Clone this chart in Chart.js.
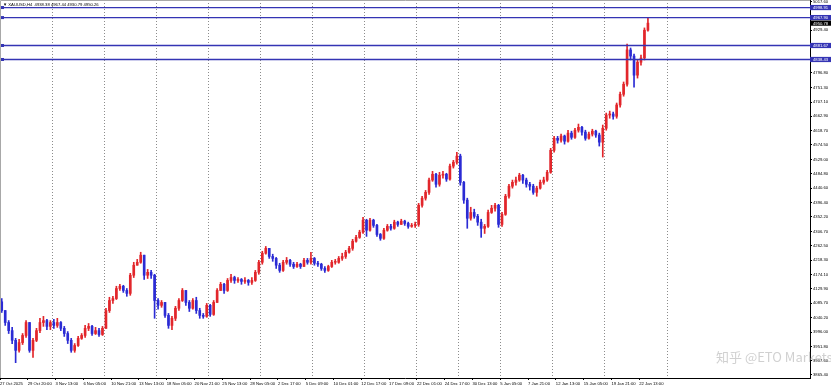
<!DOCTYPE html>
<html><head><meta charset="utf-8">
<script src="https://cdn.jsdelivr.net/npm/chart.js@4.4.1/dist/chart.umd.min.js"></script>
<style>html,body{margin:0;padding:0;background:#fff;overflow:hidden}canvas{display:block}</style>
</head><body>
<canvas id="c" width="831" height="387"></canvas>
<script>
// ---- Data (XAUUSD H4, each candle = 2 H4 bars) ----
const headerText = "\u25BC XAUUSD,H4  4938.38 4967.44 4930.79 4950.26";
const xLabels = ["27 Oct 2025","29 Oct 20:00","3 Nov 13:00","6 Nov 05:00","10 Nov 21:00","13 Nov 13:00","18 Nov 05:00","20 Nov 21:00","25 Nov 13:00","28 Nov 05:00","2 Dec 17:00","5 Dec 09:00","10 Dec 01:00","12 Dec 17:00","17 Dec 09:00","22 Dec 01:00","24 Dec 17:00","30 Dec 13:00","5 Jan 05:00","7 Jan 21:00","12 Jan 13:00","15 Jan 05:00","19 Jan 21:00","22 Jan 13:00"];
const xTickBars = [0,16,32,48,64,80,96,112,128,144,160,176,192,208,224,240,256,272,288,304,320,336,352,368];
const weekStartBars = [30,60,90,120,150,180,210,240,264,288,318,348,384];
const yTickValues = [5017.60,4929.40,4796.80,4751.30,4707.10,4662.90,4618.70,4574.50,4529.00,4484.80,4440.60,4396.40,4352.20,4306.70,4262.50,4218.30,4174.10,4129.90,4085.70,4040.20,3996.00,3951.80,3907.60,3865.40];
const levelValues = [4998.91, 4967.90, 4881.67, 4838.43];
const currentPrice = 4950.78;
const firstOpen = 4090;
const closes = [
4063,4026,4001,3971,3940,3964,3986,4026,3940,3971,
4001,4026,4032,4014,4026,4017,4026,4008,3992,3971,
3940,3955,3977,3986,4008,4014,3992,4001,3989,4008,
4063,4094,4100,4131,4138,4125,4116,4172,4203,4212,
4234,4172,4181,4172,4094,4079,4088,4048,4017,4039,
4070,4094,4125,4088,4070,4094,4063,4048,4045,4079,
4051,4088,4125,4144,4125,4156,4165,4156,4159,4153,
4156,4150,4156,4181,4212,4240,4255,4230,4224,4203,
4187,4212,4218,4206,4199,4206,4199,4218,4212,4224,
4209,4206,4193,4187,4199,4212,4212,4224,4230,4243,
4255,4277,4289,4305,4342,4311,4342,4326,4298,4286,
4311,4323,4317,4336,4329,4339,4332,4323,4326,4329,
4388,4410,4428,4466,4484,4453,4481,4484,4469,4509,
4521,4540,4459,4404,4348,4366,4354,4336,4317,4323,
4366,4379,4388,4329,4360,4416,4447,4459,4466,4481,
4466,4453,4447,4428,4441,4459,4466,4490,4558,4595,
4589,4602,4586,4611,4598,4620,4629,4614,4595,4608,
4617,4605,4583,4626,4667,4670,4663,4698,4731,4762,
4868,4849,4790,4830,4843,4929,4950.78];
const highs = [
4100,4060,4032,4011,3977,3974,3992,4032,4023,3977,
4008,4039,4045,4036,4032,4036,4039,4029,4014,3998,
3977,3961,3983,3992,4017,4023,4017,4011,4008,4014,
4070,4104,4107,4138,4144,4141,4131,4178,4212,4221,
4243,4230,4190,4187,4175,4100,4094,4088,4054,4045,
4076,4100,4131,4125,4094,4100,4104,4070,4054,4085,
4082,4094,4131,4150,4147,4162,4175,4169,4165,4162,
4165,4159,4165,4187,4218,4246,4261,4255,4237,4227,
4209,4218,4227,4221,4212,4212,4209,4224,4224,4243,
4227,4215,4209,4199,4203,4218,4221,4230,4240,4249,
4261,4283,4295,4311,4351,4345,4348,4345,4329,4301,
4317,4329,4329,4342,4339,4345,4342,4336,4332,4336,
4394,4416,4434,4472,4493,4487,4490,4493,4487,4515,
4527,4552,4546,4462,4410,4382,4376,4360,4345,4329,
4373,4388,4394,4391,4366,4422,4453,4466,4475,4487,
4484,4472,4459,4453,4447,4466,4475,4496,4564,4601,
4601,4608,4605,4620,4617,4626,4639,4632,4620,4614,
4623,4620,4611,4636,4673,4679,4676,4704,4738,4769,
4886,4874,4855,4837,4852,4936,4967.44];
const lows = [
4057,4017,3992,3961,3902,3934,3958,3980,3934,3918,
3967,3995,4014,4004,4004,4008,4011,4001,3983,3961,
3934,3934,3952,3974,3980,4001,3986,3989,3983,3986,
4011,4057,4085,4097,4125,4119,4107,4110,4165,4203,
4209,4159,4162,4162,4039,4067,4073,4042,4008,4004,
4032,4063,4091,4079,4060,4067,4054,4039,4039,4042,
4045,4048,4088,4125,4116,4122,4150,4147,4150,4144,
4147,4141,4144,4153,4175,4206,4237,4224,4215,4193,
4181,4184,4206,4199,4193,4196,4193,4199,4206,4206,
4203,4199,4187,4181,4184,4196,4206,4209,4218,4224,
4240,4249,4274,4286,4301,4292,4308,4320,4292,4280,
4283,4308,4311,4314,4323,4329,4326,4317,4320,4320,
4323,4382,4404,4422,4462,4444,4447,4472,4462,4466,
4503,4515,4450,4394,4317,4342,4348,4326,4289,4301,
4320,4363,4370,4320,4323,4357,4410,4441,4450,4462,
4456,4444,4435,4422,4416,4438,4453,4462,4487,4552,
4580,4583,4577,4583,4592,4595,4614,4605,4589,4592,
4602,4598,4571,4537,4620,4657,4654,4657,4691,4725,
4756,4837,4753,4781,4821,4837,4926];

// ---- Styling ----
const UP = '#e2262b', DOWN = '#2b2bd4', LEVEL = '#3434b4';
const FONT = '"Liberation Sans", Arial, sans-serif';
const FS = 4.2;
const X_MAX = 466.3, Y_MIN = 3854.6, Y_MAX = 5022.2;

const opens = closes.map((c, i) => i === 0 ? firstOpen : closes[i - 1]);
const colors = closes.map((c, i) => c >= opens[i] ? UP : DOWN);
const wickData = closes.map((c, i) => ({ x: 2 * i + 1, y: [Math.min(lows[i], opens[i], c), Math.max(highs[i], opens[i], c)] }));
const bodyData = closes.map((c, i) => ({ x: 2 * i + 1, y: [opens[i], c] }));

function fixBox(w, h) {
  return function (s) {
    if (w != null) s.width = w;
    if (h != null) s.height = h;
    s.paddingLeft = 0; s.paddingRight = 0; s.paddingTop = 0; s.paddingBottom = 0;
  };
}

const levelSets = levelValues.map(v => ({
  type: 'line', data: [{ x: 0, y: v }, { x: X_MAX, y: v }],
  borderColor: LEVEL, borderWidth: 1.3, pointRadius: 0, xAxisID: 'x', yAxisID: 'y', order: 0
}));

const decor = {
  id: 'decor',
  afterDraw(chart) {
    const { ctx, chartArea: a, scales } = chart;
    const ys = scales.y;
    ctx.save();
    ctx.strokeStyle = '#a8a8a8'; ctx.lineWidth = 1;
    ctx.beginPath(); ctx.moveTo(0.5, a.bottom); ctx.lineTo(0.5, 0.5); ctx.lineTo(a.right, 0.5); ctx.stroke();
    ctx.fillStyle = '#000'; ctx.font = FS + 'px ' + FONT; ctx.textBaseline = 'middle'; ctx.textAlign = 'left';
    ctx.fillText(headerText, 3, 4.5);
    levelValues.forEach(v => {
      const y = ys.getPixelForValue(v);
      ctx.fillStyle = LEVEL;
      ctx.fillRect(a.right, y - 2.6, 831 - a.right, 5.2);
      ctx.fillRect(1, y - 1.5, 3, 3);
      ctx.fillStyle = '#fff';
      ctx.fillText(v.toFixed(2), a.right + 3, y + 0.3);
    });
    const yc = ys.getPixelForValue(currentPrice);
    ctx.fillStyle = '#000';
    ctx.fillRect(a.right, yc - 2.6, 831 - a.right, 5.2);
    ctx.fillStyle = '#fff';
    ctx.fillText(currentPrice.toFixed(2), a.right + 3, yc + 0.3);
    ctx.font = '13px "Noto Sans CJK SC", ' + FONT;
    ctx.fillStyle = 'rgba(170,170,170,0.55)';
    ctx.textBaseline = 'alphabetic';
    ctx.fillText('\u77E5\u4E4E @ETO Markets', 716, 362);
    ctx.restore();
  }
};

Chart.defaults.font.family = FONT;
new Chart(document.getElementById('c'), {
  type: 'bar',
  data: {
    datasets: [
      { data: wickData, backgroundColor: colors, barThickness: 1, grouped: false, borderWidth: 0, order: 2, xAxisID: 'x', yAxisID: 'y' },
      { data: bodyData, backgroundColor: colors, barThickness: 2, grouped: false, borderWidth: 0, minBarLength: 1, order: 1, xAxisID: 'x', yAxisID: 'y' },
      ...levelSets
    ]
  },
  options: {
    responsive: false, animation: false, devicePixelRatio: 1,
    layout: { padding: 0 },
    plugins: { legend: { display: false }, tooltip: { enabled: false } },
    scales: {
      x: {
        type: 'linear', position: 'bottom', min: 0, max: X_MAX, offset: false,
        afterBuildTicks: s => { s.ticks = xTickBars.map(v => ({ value: v })); },
        ticks: { autoSkip: false, maxRotation: 0, minRotation: 0, align: 'start', padding: 1, color: '#000', font: { size: FS },
          callback: (v, i) => xLabels[i] },
        grid: { offset: false, drawOnChartArea: false, drawTicks: true, tickLength: 2, color: '#000' },
        border: { display: true, color: '#000' },
        afterFit: fixBox(null, 9)
      },
      x2: {
        type: 'linear', position: 'bottom', min: 0, max: X_MAX, offset: false,
        afterBuildTicks: s => { s.ticks = weekStartBars.map(v => ({ value: v })); },
        ticks: { display: false },
        grid: { offset: false, drawOnChartArea: true, drawTicks: false, color: '#8c8c8c', lineWidth: 1 },
        border: { display: false, dash: [1, 2] },
        afterFit: fixBox(null, 0)
      },
      y: {
        type: 'linear', position: 'right', min: Y_MIN, max: Y_MAX,
        afterBuildTicks: s => { s.ticks = yTickValues.map(v => ({ value: v })); },
        ticks: { padding: 1, color: '#000', font: { size: FS }, callback: v => Number(v).toFixed(2) },
        grid: { drawOnChartArea: false, tickLength: 2, color: '#000' },
        border: { display: true, color: '#000' },
        afterFit: fixBox(21, null)
      }
    }
  },
  plugins: [decor]
});
</script>
</body></html>
